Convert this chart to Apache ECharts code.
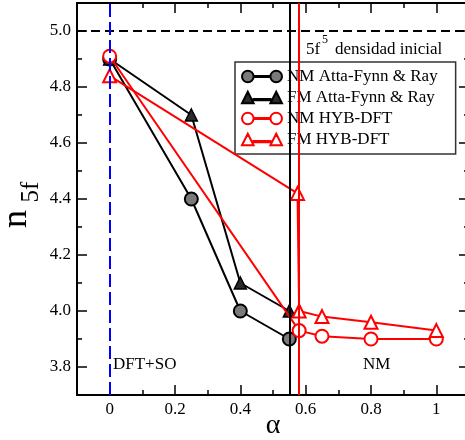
<!DOCTYPE html>
<html>
<head>
<meta charset="utf-8">
<script src="https://cdn.jsdelivr.net/npm/echarts@6/dist/echarts.min.js"></script>
<style>
  html, body { margin: 0; padding: 0; background: #fff; overflow: hidden; }
  #chart { width: 465px; height: 440px; }
</style>
</head>
<body>
<div id="chart"></div>
<script>
// series values (alpha, n5f)
const nmAttaX = [0, 0.25, 0.4, 0.55];
const nmAttaY = [4.9, 4.4, 4.0, 3.9];
const fmAttaX = [0, 0.25, 0.4, 0.55];
const fmAttaY = [4.9, 4.7, 4.1, 4.0];
const nmHybX = [0, 0.58, 0.65, 0.8, 1.0];
const nmHybY = [4.91, 3.93, 3.91, 3.90, 3.90];
const fmHybX = [0, 0.575, 0.58, 0.65, 0.8, 1.0];
const fmHybY = [4.84, 4.42, 4.0, 3.98, 3.96, 3.93];

const seriesNames = ['NM Atta-Fynn & Ray', 'FM Atta-Fynn & Ray', 'NM HYB-DFT', 'FM HYB-DFT'];

// reference lines
const initialDensity = 5.0;
const dftLine = 0;
const blackLine = 0.55;
const redLine = 0.58;

// ticks
const xMajor = [0, 0.2, 0.4, 0.6, 0.8, 1.0];
const xMinor = [-0.1, 0.1, 0.3, 0.5, 0.7, 0.9, 1.1];
const yMajor = [3.8, 4.0, 4.2, 4.4, 4.6, 4.8, 5.0];
const yMinor = [3.7, 3.9, 4.1, 4.3, 4.5, 4.7, 4.9, 5.1];

const serif = 'Liberation Serif';

// legend icons: symbol - line - symbol, like the grace legend
const circleIcon = 'path://M1,6.5A5.5,5.5 0 1,0 12,6.5A5.5,5.5 0 1,0 1,6.5Z' +
  'M12,6L28,6L28,7L12,7Z' +
  'M28,6.5A5.5,5.5 0 1,0 39,6.5A5.5,5.5 0 1,0 28,6.5Z';
const triIcon = 'path://M1,12L6.5,1L12,12Z' +
  'M12,8L28,8L28,9L12,9Z' +
  'M28,12L33.5,1L39,12Z';

function zip(xs, ys) {
  return xs.map((x, i) => [x, ys[i]]);
}

function xAxisDef(pos, ticks, len, withLine, withLabel) {
  return {
    type: 'value', min: -0.1, max: 1.1, position: pos,
    axisLine: { show: withLine, onZero: false, lineStyle: { color: '#000', width: 2 } },
    axisTick: { show: true, inside: true, length: len, customValues: ticks,
      lineStyle: { color: '#000', width: 1.5 } },
    axisLabel: {
      show: withLabel, customValues: xMajor, margin: 6,
      fontFamily: serif, fontSize: 17, color: '#000',
      formatter: v => String(Math.round(v * 10) / 10)
    },
    splitLine: { show: false }
  };
}

function yAxisDef(pos, ticks, len, withLine, withLabel) {
  return {
    type: 'value', min: 3.7, max: 5.1, position: pos,
    axisLine: { show: withLine, onZero: false, lineStyle: { color: '#000', width: 2 } },
    axisTick: { show: true, inside: true, length: len, customValues: ticks,
      lineStyle: { color: '#000', width: 1.5 } },
    axisLabel: {
      show: withLabel, customValues: yMajor, margin: 6,
      fontFamily: serif, fontSize: 17, color: '#000',
      formatter: v => v.toFixed(1)
    },
    splitLine: { show: false }
  };
}

const chart = echarts.init(document.getElementById('chart'));

const option = {
  animation: false,
  textStyle: { fontFamily: serif, fontSize: 17, color: '#000' },
  grid: { left: 77, width: 392, top: 3, height: 392, outerBoundsMode: 'none', containLabel: false },
  xAxis: [
    xAxisDef('bottom', xMajor, 10, true, true),
    xAxisDef('bottom', xMinor, 5, false, false),
    xAxisDef('top', xMajor, 10, true, false),
    xAxisDef('top', xMinor, 5, false, false)
  ],
  yAxis: [
    yAxisDef('left', yMajor, 10, true, true),
    yAxisDef('left', yMinor, 5, false, false),
    yAxisDef('right', yMajor, 10, true, false),
    yAxisDef('right', yMinor, 5, false, false)
  ],
  legend: {
    orient: 'vertical',
    left: 235, top: 62,
    padding: [6, 18, 6, 6],
    itemWidth: 40, itemHeight: 13, itemGap: 4,
    backgroundColor: '#fff',
    borderColor: '#333', borderWidth: 1.5,
    textStyle: { fontFamily: serif, fontSize: 17, color: '#000' },
    data: [
      { name: seriesNames[0], icon: circleIcon },
      { name: seriesNames[1], icon: triIcon },
      { name: seriesNames[2], icon: circleIcon },
      { name: seriesNames[3], icon: triIcon }
    ]
  },
  series: [
    {
      // reference lines
      type: 'line', data: [], silent: true, z: 1,
      markLine: {
        silent: true, symbol: 'none', label: { show: false },
        data: [
          { yAxis: initialDensity, lineStyle: { color: '#000', type: [9, 5], width: 2 } },
          { xAxis: dftLine, lineStyle: { color: '#0000ff', type: [13, 5], width: 2 } },
          { xAxis: blackLine, lineStyle: { color: '#000', type: 'solid', width: 2 } },
          { xAxis: redLine, lineStyle: { color: '#ff0000', type: 'solid', width: 2 } }
        ]
      }
    },
    {
      name: seriesNames[0], type: 'line', z: 3,
      data: zip(nmAttaX, nmAttaY),
      symbol: 'circle', symbolSize: 13,
      lineStyle: { color: '#000', width: 2 },
      itemStyle: { color: '#7a7a7a', borderColor: '#000', borderWidth: 2 }
    },
    {
      name: seriesNames[1], type: 'line', z: 3,
      data: zip(fmAttaX, fmAttaY),
      symbol: 'triangle', symbolSize: 12,
      lineStyle: { color: '#000', width: 2 },
      itemStyle: { color: '#2a2a2a', borderColor: '#000', borderWidth: 1.5 }
    },
    {
      name: seriesNames[2], type: 'line', z: 4,
      data: zip(nmHybX, nmHybY),
      symbol: 'circle', symbolSize: 13,
      lineStyle: { color: '#ff0000', width: 2 },
      itemStyle: { color: '#fff', borderColor: '#ff0000', borderWidth: 2 }
    },
    {
      name: seriesNames[3], type: 'line', z: 4,
      data: zip(fmHybX, fmHybY),
      symbol: 'triangle', symbolSize: 13,
      lineStyle: { color: '#ff0000', width: 2 },
      itemStyle: { color: '#fff', borderColor: '#ff0000', borderWidth: 2 }
    }
  ],
  graphic: [
    { type: 'text', x: 17, y: 219, rotation: Math.PI / 2,
      style: { text: 'n', font: '36px "Liberation Serif"', fill: '#000', textAlign: 'center', textVerticalAlign: 'middle' } },
    { type: 'text', x: 31, y: 192, rotation: Math.PI / 2,
      style: { text: '5f', font: '25px "Liberation Serif"', fill: '#000', textAlign: 'center', textVerticalAlign: 'middle' } },
    { type: 'text', x: 273, y: 426,
      style: { text: 'α', font: '28px "Liberation Serif"', fill: '#000', textAlign: 'center', textVerticalAlign: 'middle' } },
    { type: 'text', x: 306, y: 50,
      style: { text: '5f', font: '17px "Liberation Serif"', fill: '#000', textVerticalAlign: 'middle' } },
    { type: 'text', x: 322, y: 40,
      style: { text: '5', font: '12px "Liberation Serif"', fill: '#000', textVerticalAlign: 'middle' } },
    { type: 'text', x: 335, y: 50,
      style: { text: 'densidad inicial', font: '17px "Liberation Serif"', fill: '#000', textVerticalAlign: 'middle' } },
    { type: 'text', x: 113, y: 365,
      style: { text: 'DFT+SO', font: '17px "Liberation Serif"', fill: '#000', textVerticalAlign: 'middle' } },
    { type: 'text', x: 363, y: 365,
      style: { text: 'NM', font: '17px "Liberation Serif"', fill: '#000', textVerticalAlign: 'middle' } }
  ]
};

chart.setOption(option);
</script>
</body>
</html>
